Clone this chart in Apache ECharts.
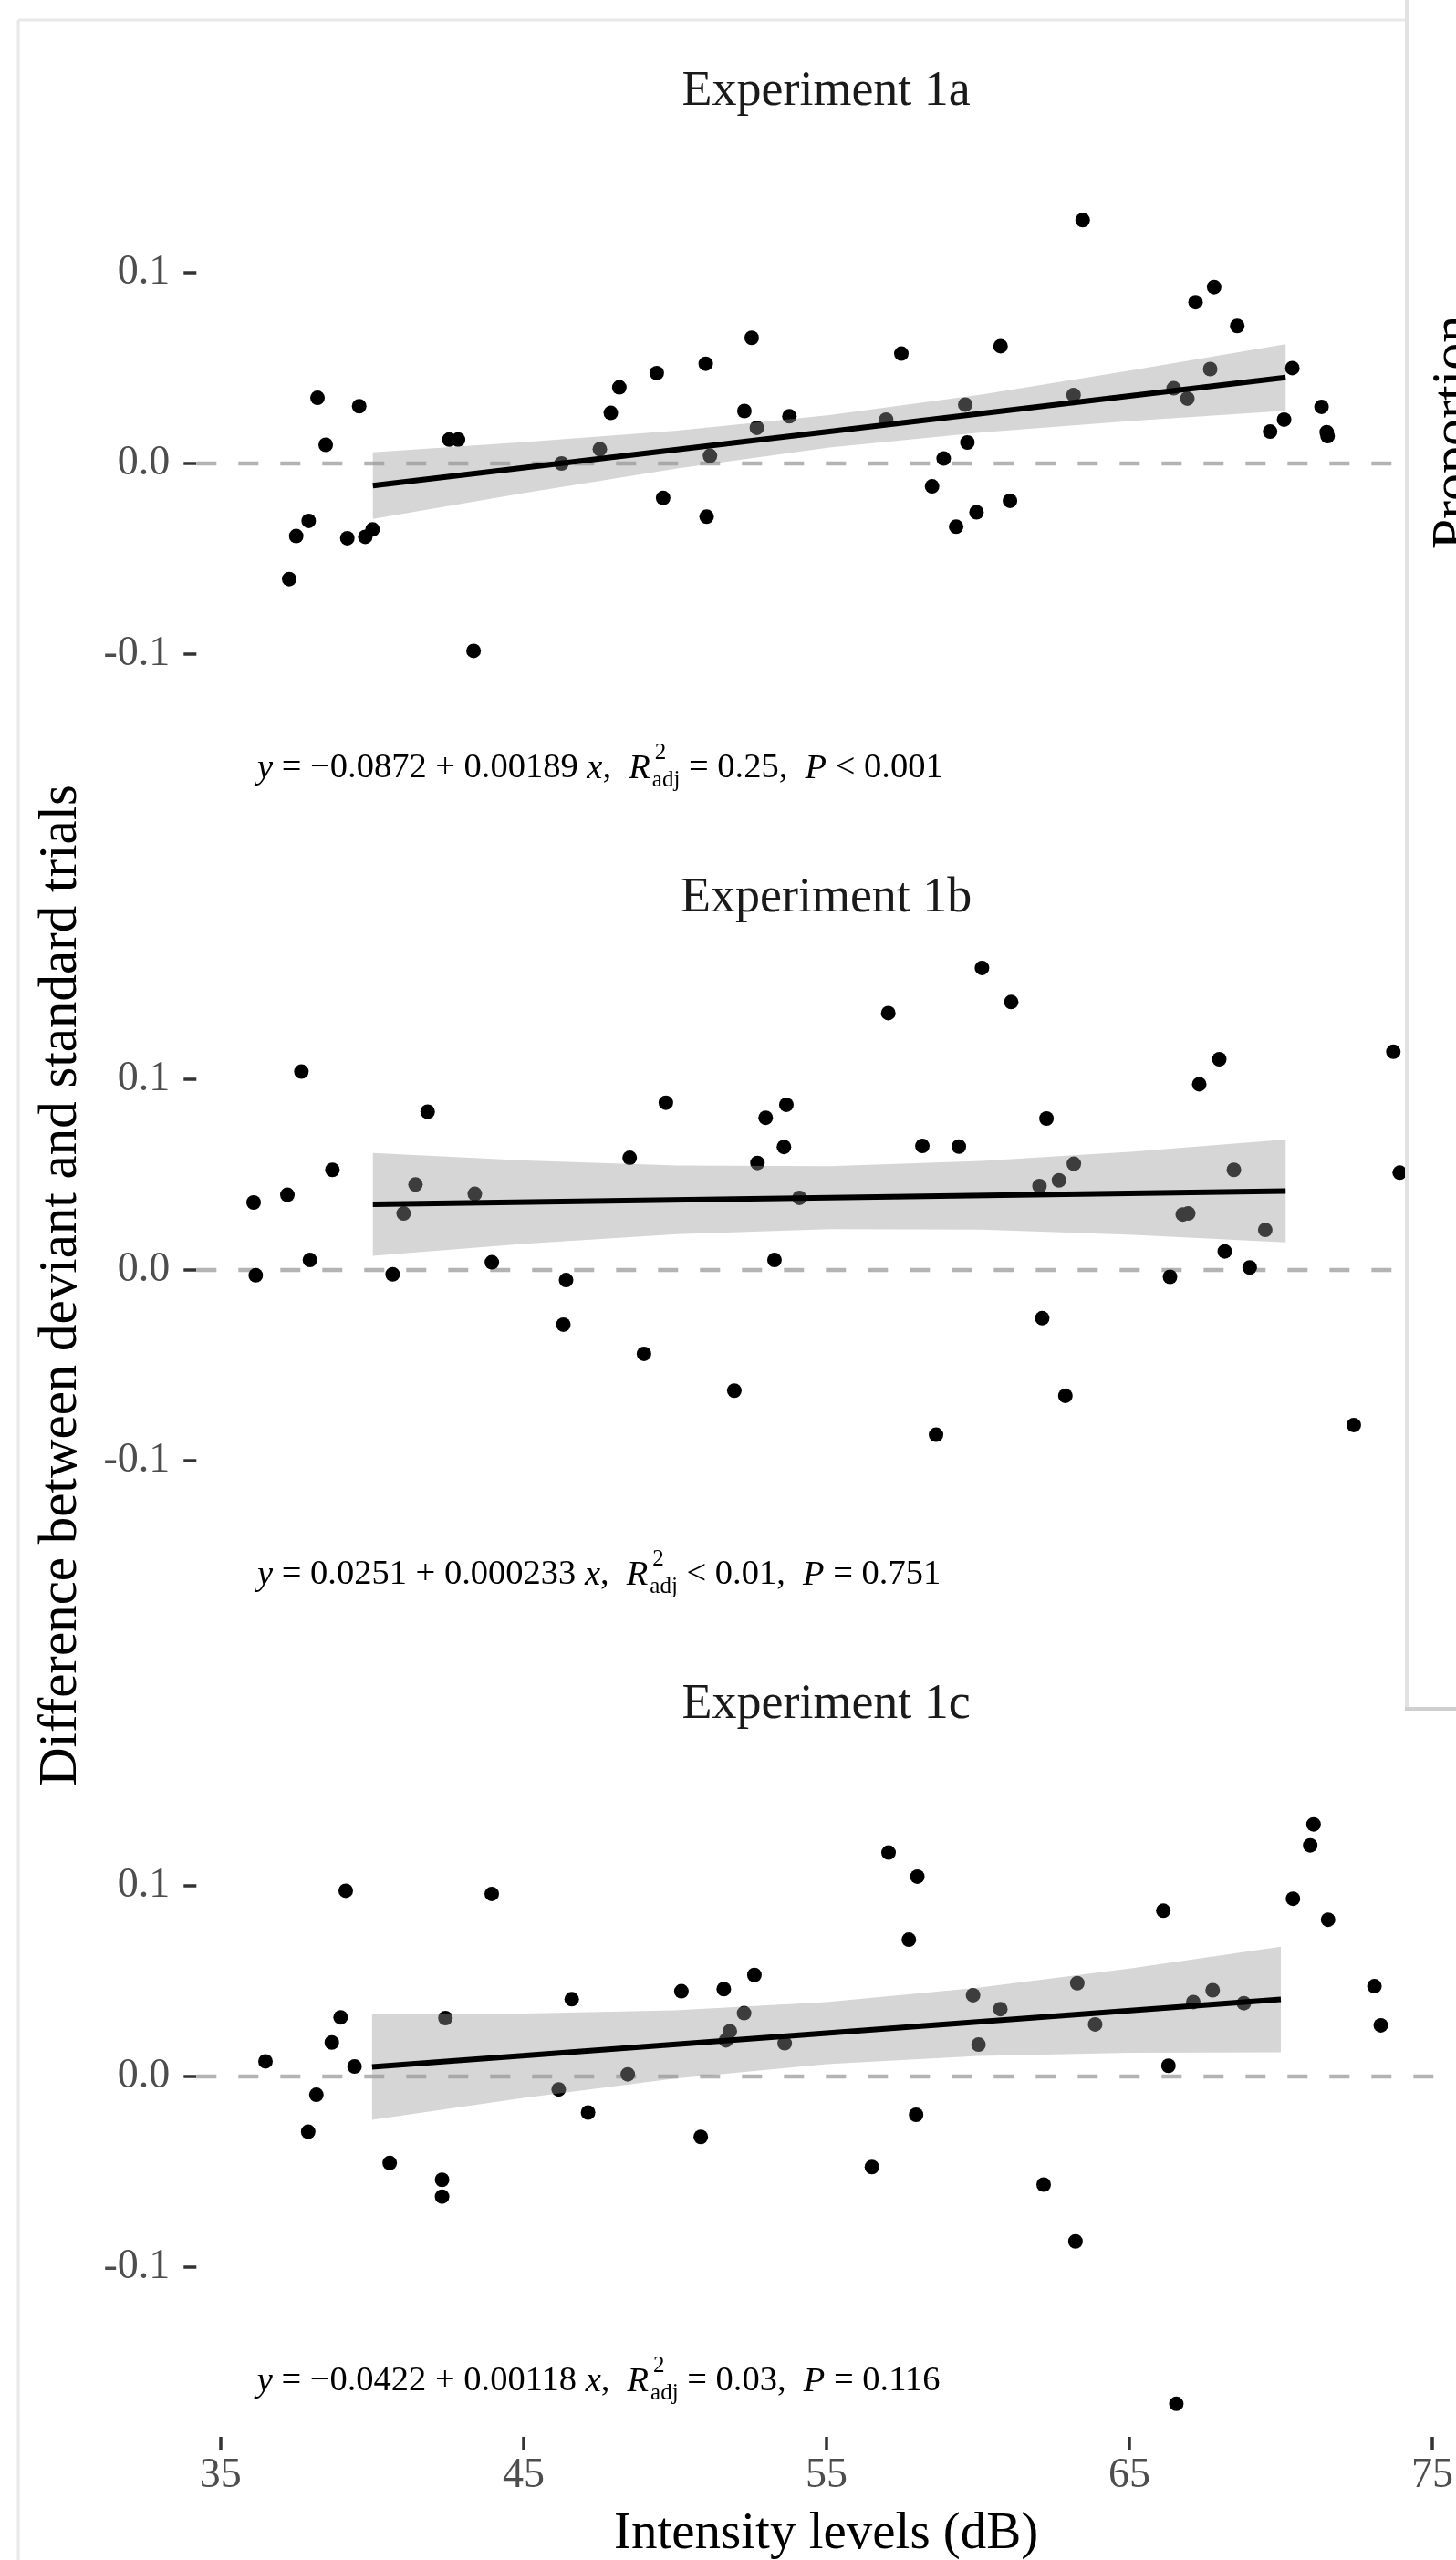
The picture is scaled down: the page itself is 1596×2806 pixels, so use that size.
<!DOCTYPE html>
<html><head><meta charset="utf-8">
<script src="https://cdn.jsdelivr.net/npm/echarts@6/dist/echarts.min.js"></script>
<style>html,body{margin:0;padding:0;background:#fff}#c{width:1596px;height:2806px}</style>
</head><body><div id="c"></div><script>
// ---------- data ----------
const panelTitles = ['Experiment 1a', 'Experiment 1b', 'Experiment 1c'];
const xTicks = [35, 45, 55, 65, 75];
const yTicks = [-0.1, 0, 0.1];
const referenceY = [0];

const exp1aX = [37.25,37.48,37.89,38.18,38.45,39.16,39.55,39.75,39.99,42.51,42.80,43.31,46.2,47.46,47.82,48.10,49.33,49.54,50.94,50.97,51.08,52.21,52.45,52.62,53.69,56.87,57.37,58.38,58.76,59.17,59.47,59.54,59.84,60.63,60.94,63.03,63.33,66.32,66.77,67.04,67.52,67.65,68.41,69.49,69.95,70.22,71.18,71.35,71.38];
const exp1aY = [-0.0606,-0.0381,-0.0301,0.0344,0.0098,-0.0392,0.030,-0.0385,-0.0346,0.0125,0.0125,-0.0983,0.0,0.0075,0.0265,0.0399,0.0474,-0.0181,0.0523,-0.0279,0.004,0.0275,0.0659,0.0187,0.0247,0.023,0.0576,-0.012,0.0026,-0.0332,0.0309,0.011,-0.0256,0.0615,-0.0196,0.0359,0.1276,0.0394,0.034,0.0846,0.0495,0.0925,0.0721,0.0167,0.023,0.05,0.0297,0.0164,0.0143];

const exp1bX = [36.08,36.15,37.19,37.65,37.93,38.67,40.65,41.01,41.40,41.80,43.35,43.91,46.26,46.35,48.44,48.91,49.63,51.88,52.64,52.91,53.20,53.51,53.59,54.02,56.94,58.06,58.51,59.26,60.02,60.98,61.91,62.0,62.14,62.55,62.76,63.04,66.2,66.62,66.80,67.16,67.82,68.0,68.30,68.82,69.33,72.24,73.54,73.75];
const exp1bY = [0.0354,-0.0028,0.0394,0.104,0.0052,0.0525,-0.0023,0.0296,0.0448,0.083,0.0399,0.004,-0.0287,-0.0053,0.0588,-0.044,0.0877,-0.0633,0.0561,0.0798,0.0052,0.0645,0.0866,0.0378,0.1347,0.065,-0.0864,0.0647,0.1584,0.1405,0.044,-0.0253,0.0794,0.047,-0.066,0.0557,-0.0036,0.0291,0.0296,0.0974,0.1105,0.0097,0.0525,0.0013,0.021,-0.0813,0.1144,0.051];

const exp1cX = [36.48,37.89,38.16,38.67,38.96,39.13,39.42,40.58,42.31,42.31,42.42,43.95,46.16,46.59,47.13,48.44,50.21,50.85,51.61,51.68,51.81,52.28,52.62,53.62,56.5,57.05,57.72,57.96,58.0,59.84,60.02,60.74,62.17,63.22,63.28,63.87,66.12,66.29,66.55,67.11,67.75,68.78,70.4,70.97,71.08,71.56,73.09,73.30];
const exp1cY = [0.0079,-0.029,-0.0096,0.0178,0.031,0.0974,0.0052,-0.0454,-0.0542,-0.063,0.0306,0.0957,-0.0068,0.0405,-0.0189,0.0011,0.0447,-0.0317,0.0458,0.0189,0.0237,0.0332,0.0532,0.0174,-0.0475,0.1174,0.0717,-0.0201,0.1048,0.0426,0.0167,0.0353,-0.0567,-0.0865,0.0489,0.0273,0.0869,0.0056,-0.1717,0.039,0.0452,0.0384,0.0932,0.1212,0.1322,0.0822,0.0473,0.0268];

// fitted line and confidence band
const fitX = [40, 70];
const fit1aY = [-0.0116, 0.0451];
const fit1bY = [0.0344, 0.0414];
const fit1cY = [0.0050, 0.0404];
const ribbonX = [40, 45, 50, 55, 60, 65, 70];
const ribbon1aUpper = [0.0059, 0.0112, 0.0172, 0.0253, 0.0361, 0.0490, 0.0626];
const ribbon1aLower = [-0.0291, -0.0155, -0.0026, 0.0083, 0.0163, 0.0224, 0.0276];
const ribbon1bUpper = [0.0614, 0.0574, 0.0548, 0.0544, 0.0571, 0.0621, 0.0684];
const ribbon1bLower = [0.0074, 0.0138, 0.0188, 0.0214, 0.0211, 0.0184, 0.0144];
const ribbon1cUpper = [0.0327, 0.0330, 0.0347, 0.0390, 0.0465, 0.0566, 0.0681];
const ribbon1cLower = [-0.0227, -0.0112, -0.0011, 0.0064, 0.0107, 0.0124, 0.0127];

// equation labels
const eqIntercept = ['\u22120.0872', '0.0251', '\u22120.0422'];
const eqSlope = ['0.00189', '0.000233', '0.00118'];
const eqR2 = ['= 0.25', '< 0.01', '= 0.03'];
const eqP = ['< 0.001', '= 0.751', '= 0.116'];

// ---------- layout ----------
const FONT = '"Liberation Serif", "Times New Roman", serif';
const X_MIN = 34.2, X_MAX = 75.6, Y_MIN = -0.189, Y_MAX = 0.175;
const GRID_LEFT = 215.3, GRID_W = 1380.7, GRID_H = 760.8, GRID_TOP0 = 142.2, STEP = 884;

const panels = [
  {xs: exp1aX, ys: exp1aY, fit: fit1aY, up: ribbon1aUpper, lo: ribbon1aLower},
  {xs: exp1bX, ys: exp1bY, fit: fit1bY, up: ribbon1bUpper, lo: ribbon1bLower},
  {xs: exp1cX, ys: exp1cY, fit: fit1cY, up: ribbon1cUpper, lo: ribbon1cLower}
];

const grid = panels.map((p, i) => ({left: GRID_LEFT, top: GRID_TOP0 + i * STEP, width: GRID_W, height: GRID_H}));
const xAxis = panels.map((p, i) => ({
  gridIndex: i, type: 'value', min: X_MIN, max: X_MAX, position: 'bottom',
  axisLine: {show: false, onZero: false}, splitLine: {show: false},
  axisTick: {show: i === 2, customValues: xTicks, length: 14, lineStyle: {color: '#333', width: 3.5}},
  axisLabel: {show: i === 2, customValues: xTicks, margin: 20, fontSize: 46, color: '#4d4d4d', fontFamily: FONT}
}));
const yAxis = panels.map((p, i) => ({
  gridIndex: i, type: 'value', min: Y_MIN, max: Y_MAX,
  axisLine: {show: false, onZero: false}, splitLine: {show: false},
  axisTick: {show: true, customValues: yTicks, length: 14, lineStyle: {color: '#333', width: 3.5}},
  axisLabel: {customValues: yTicks, margin: 29, fontSize: 46, color: '#4d4d4d', fontFamily: FONT,
    formatter: v => v.toFixed(1)}
}));

const series = [];
panels.forEach((p, i) => {
  series.push({
    type: 'line', xAxisIndex: i, yAxisIndex: i, silent: true, symbol: 'none', z: 1,
    data: [[X_MIN, referenceY[0]], [X_MAX, referenceY[0]]],
    lineStyle: {color: '#b3b3b3', width: 4.5, type: [22, 24]}
  });
  series.push({
    type: 'scatter', xAxisIndex: i, yAxisIndex: i, z: 2, symbolSize: 16,
    itemStyle: {color: '#000', opacity: 1},
    data: p.xs.map((x, k) => [x, p.ys[k]])
  });
  series.push({
    type: 'custom', xAxisIndex: i, yAxisIndex: i, z: 3, silent: true,
    data: [[ribbonX[0], p.lo[0]]],
    renderItem: (params, api) => {
      const pts = [];
      for (let k = 0; k < ribbonX.length; k++) pts.push(api.coord([ribbonX[k], p.up[k]]));
      for (let k = ribbonX.length - 1; k >= 0; k--) pts.push(api.coord([ribbonX[k], p.lo[k]]));
      return {type: 'polygon', shape: {points: pts}, style: {fill: 'rgba(153,153,153,0.4)'}};
    }
  });
  series.push({
    type: 'line', xAxisIndex: i, yAxisIndex: i, z: 4, silent: true, symbol: 'none',
    data: fitX.map((x, k) => [x, p.fit[k]]),
    lineStyle: {color: '#000', width: 6}
  });
});

const chart = echarts.init(document.getElementById('c'), null, {renderer: 'canvas'});
chart.setOption({animation: false, backgroundColor: '#fff', grid, xAxis, yAxis, series});

// ---------- annotations ----------
const ctx = document.createElement('canvas').getContext('2d');
function tw(t, size, italic) { ctx.font = (italic ? 'italic ' : '') + size + 'px ' + FONT; return ctx.measureText(t).width; }
function txt(t, x, y, size, opts) {
  opts = opts || {};
  return {type: 'text', x, y, rotation: opts.rot || 0, z: opts.z || 10,
    style: {text: t, fontSize: size, fontFamily: FONT, fontStyle: opts.italic ? 'italic' : 'normal',
      fill: opts.fill || '#000', align: opts.align || 'left', verticalAlign: 'middle'}};
}

const graphics = [];
// outer frame
graphics.push({type: 'line', z: 0, shape: {x1: 20, y1: 22, x2: 1542, y2: 22}, style: {stroke: '#e8e8e8', lineWidth: 3}});
graphics.push({type: 'line', z: 0, shape: {x1: 20, y1: 22, x2: 20, y2: 2806}, style: {stroke: '#e8e8e8', lineWidth: 3}});

const FS = 38.5, FSS = 25;
panels.forEach((p, i) => {
  const cx = GRID_LEFT + GRID_W / 2;
  graphics.push(txt(panelTitles[i], cx, 101 + i * STEP, 54, {align: 'center', fill: '#1a1a1a'}));
  const pos = chart.convertToPixel({gridIndex: i}, [36.2, -0.16]);
  let x = pos[0];
  const y = pos[1];
  const parts = [
    ['y', true], [' = ' + eqIntercept[i] + ' + ' + eqSlope[i] + ' ', false], ['x', true], [',  ', false], ['R', true]
  ];
  parts.forEach(([t, it]) => { graphics.push(txt(t, x, y, FS, {italic: it})); x += tw(t, FS, it); });
  x += 2;
  graphics.push(txt('2', x + 3, y - 17, FSS));
  graphics.push(txt('adj', x, y + 13, FSS));
  x += Math.max(tw('2', FSS) + 3, tw('adj', FSS));
  const parts2 = [[' ' + eqR2[i] + ',  ', false], ['P', true], [' ' + eqP[i], false]];
  parts2.forEach(([t, it]) => { graphics.push(txt(t, x, y, FS, {italic: it})); x += tw(t, FS, it); });
});

// axis titles
graphics.push(txt('Difference between deviant and standard trials', 67, 1409, 59, {align: 'center', rot: Math.PI / 2, fill: '#000'}));
graphics.push(txt('Intensity levels (dB)', GRID_LEFT + GRID_W / 2, 2778, 57, {align: 'center'}));

// neighbouring panel box on the right
graphics.push({type: 'rect', z: 50, shape: {x: 1542, y: -10, width: 80, height: 1882}, style: {fill: '#fff', stroke: null}});
graphics.push({type: 'line', z: 51, shape: {x1: 1542, y1: 0, x2: 1542, y2: 1872}, style: {stroke: '#e2e2e2', lineWidth: 4}});
graphics.push({type: 'line', z: 51, shape: {x1: 1540, y1: 1873, x2: 1596, y2: 1873}, style: {stroke: '#cfcfcf', lineWidth: 4}});
graphics.push(txt('Proportion', 1594, 474, 60, {align: 'center', rot: Math.PI / 2, z: 52}));

chart.setOption({graphic: graphics});
</script></body></html>
